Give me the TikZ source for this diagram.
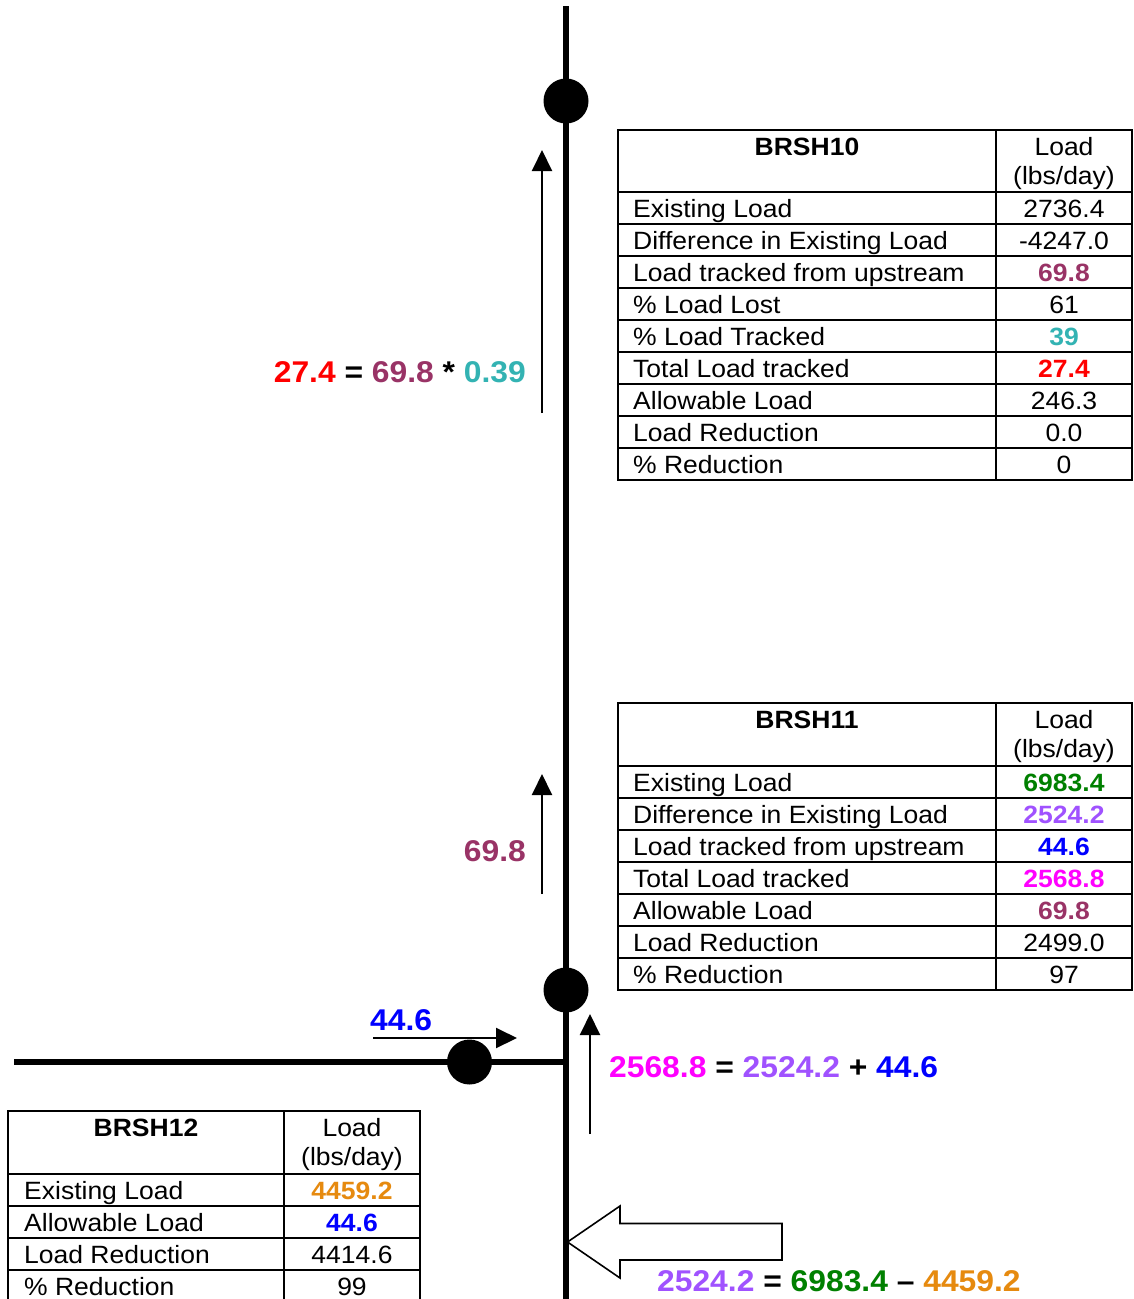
\documentclass[tikz,border=0pt]{standalone}
\usepackage{fontspec}
\setmainfont[FakeStretch=1.06]{Liberation Sans}
\usetikzlibrary{arrows.meta}
\definecolor{cRed}{HTML}{FF0000}
\definecolor{cPlum}{HTML}{993366}
\definecolor{cTeal}{HTML}{33B3B3}
\definecolor{cGreen}{HTML}{008000}
\definecolor{cPurple}{HTML}{A052FF}
\definecolor{cBlue}{HTML}{0000FF}
\definecolor{cMag}{HTML}{FF00FF}
\definecolor{cOrange}{HTML}{E68A0F}
\tikzset{
  river/.style={line width=6pt},
  gridline/.style={line width=2pt},
  cell/.style={font=\fontsize{25}{29}\selectfont, inner sep=0pt},
  lbl/.style={cell, anchor=base west},
  val/.style={cell, anchor=base},
  eqn/.style={font=\fontsize{30}{36}\selectfont\bfseries, inner sep=0pt},
  flow/.style={line width=2pt, -{Triangle[length=21pt,width=20pt]}},
  station/.style={circle, fill=black, minimum size=45pt, inner sep=0pt},
  bigarrow/.style={line width=1.6pt, line join=miter, fill=white}
}
\begin{document}
\begin{tikzpicture}[x=1pt,y=-1pt]
\clip (0,0) rectangle (1134,1299);
\fill[white] (0,0) rectangle (1134,1299);

% main stream and tributary
\coordinate (top) at (566,6);
\coordinate (bot) at (566,1300);
\draw[river] (top) -- (bot);
\coordinate (trib) at (14,1062);
\coordinate (conf) at (566,1062);
\draw[river] (trib) -- (conf);
\node[station] (s10) at (566,101) {};
\node[station] (s11) at (566,990) {};
\node[station] (s12) at (469.5,1062) {};

% flow arrows
\coordinate (a1s) at (542,413); \coordinate (a1e) at (542,150);
\draw[flow] (a1s) -- (a1e);
\coordinate (a2s) at (542,894); \coordinate (a2e) at (542,774);
\draw[flow] (a2s) -- (a2e);
\coordinate (a3s) at (373,1038); \coordinate (a3e) at (517,1038);
\draw[flow] (a3s) -- (a3e);
\coordinate (a4s) at (590,1134); \coordinate (a4e) at (590,1014);
\draw[flow] (a4s) -- (a4e);

% hollow arrow
\draw[bigarrow] (567.5,1242) -- (620,1206) -- (620,1223.5) -- (782,1223.5)
  -- (782,1260) -- (620,1260) -- (620,1278) -- cycle;

% equations and labels
\node[eqn, anchor=base east] (eq10) at (526,382.5)
  {\textcolor{cRed}{27.4} = \textcolor{cPlum}{69.8} * \textcolor{cTeal}{0.39}};
\node[eqn, anchor=base east, text=cPlum] (l698) at (526,861) {69.8};
\node[eqn, anchor=base west, text=cBlue] (l446) at (370,1030) {44.6};
\node[eqn, anchor=base west] (eq11) at (609,1077)
  {\textcolor{cMag}{2568.8} = \textcolor{cPurple}{2524.2} + \textcolor{cBlue}{44.6}};
\node[eqn, anchor=base west] (eqd) at (657,1291)
  {\textcolor{cPurple}{2524.2} = \textcolor{cGreen}{6983.4} {\textendash} \textcolor{cOrange}{4459.2}};

% table BRSH10
\draw[gridline] (618,130) rectangle (1132,480);
\draw[gridline] (996,130) -- (996,480);
\foreach \y in {192,224,...,448} \draw[gridline] (618,\y) -- (1132,\y);
\node[val] (t10h) at (807,155) {\bfseries BRSH10};
\node[val] (t10u1) at (1064,155) {Load};
\node[val] (t10u2) at (1064,184) {(lbs/day)};
\foreach \t/\v [count=\i] in {
  {Existing Load}/{2736.4},
  {Difference in Existing Load}/{-4247.0},
  {Load tracked from upstream}/{\textcolor{cPlum}{\bfseries 69.8}},
  {\% Load Lost}/{61},
  {\% Load Tracked}/{\textcolor{cTeal}{\bfseries 39}},
  {Total Load tracked}/{\textcolor{cRed}{\bfseries 27.4}},
  {Allowable Load}/{246.3},
  {Load Reduction}/{0.0},
  {\% Reduction}/{0}} {
  \node[lbl] (t10l\i) at (633,{192+32*\i-6.5}) {\t};
  \node[val] (t10v\i) at (1064,{192+32*\i-6.5}) {\v};
}

% table BRSH11
\draw[gridline] (618,703) rectangle (1132,990);
\draw[gridline] (996,703) -- (996,990);
\foreach \y in {766,798,...,958} \draw[gridline] (618,\y) -- (1132,\y);
\node[val] (t11h) at (807,728) {\bfseries BRSH11};
\node[val] (t11u1) at (1064,728) {Load};
\node[val] (t11u2) at (1064,757) {(lbs/day)};
\foreach \t/\v [count=\i] in {
  {Existing Load}/{\textcolor{cGreen}{\bfseries 6983.4}},
  {Difference in Existing Load}/{\textcolor{cPurple}{\bfseries 2524.2}},
  {Load tracked from upstream}/{\textcolor{cBlue}{\bfseries 44.6}},
  {Total Load tracked}/{\textcolor{cMag}{\bfseries 2568.8}},
  {Allowable Load}/{\textcolor{cPlum}{\bfseries 69.8}},
  {Load Reduction}/{2499.0},
  {\% Reduction}/{97}} {
  \node[lbl] (t11l\i) at (633,{766+32*\i-6.5}) {\t};
  \node[val] (t11v\i) at (1064,{766+32*\i-6.5}) {\v};
}

% table BRSH12
\draw[gridline] (8,1111) rectangle (420,1302);
\draw[gridline] (284,1111) -- (284,1302);
\foreach \y in {1174,1206,1238,1270} \draw[gridline] (8,\y) -- (420,\y);
\node[val] (t12h) at (146,1136) {\bfseries BRSH12};
\node[val] (t12u1) at (352,1136) {Load};
\node[val] (t12u2) at (352,1165) {(lbs/day)};
\foreach \t/\v [count=\i] in {
  {Existing Load}/{\textcolor{cOrange}{\bfseries 4459.2}},
  {Allowable Load}/{\textcolor{cBlue}{\bfseries 44.6}},
  {Load Reduction}/{4414.6},
  {\% Reduction}/{99}} {
  \node[lbl] (t12l\i) at (24,{1174+32*\i-6.5}) {\t};
  \node[val] (t12v\i) at (352,{1174+32*\i-6.5}) {\v};
}
\end{tikzpicture}
\end{document}
